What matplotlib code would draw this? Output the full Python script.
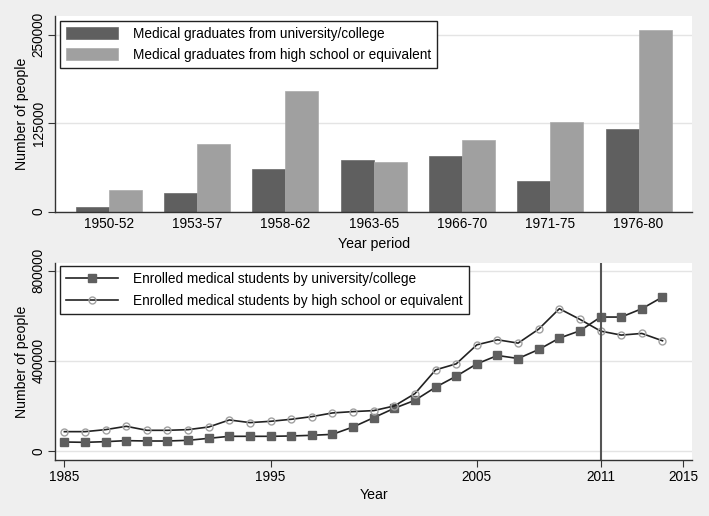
import numpy as np
import matplotlib.pyplot as plt

plt.rcParams['font.family'] = ['Liberation Sans', 'DejaVu Sans']

# top panel: graduates by period
periods = ["1950-52", "1953-57", "1958-62", "1963-65", "1966-70", "1971-75", "1976-80"]
grad_uni = [6100, 25900, 59900, 72600, 78800, 43800, 116300]
grad_hs = [31100, 95600, 170300, 69800, 100900, 126200, 257100]

# bottom panel: enrolled students by year
years = list(range(1985, 2015))
enr_uni = [40000, 38500, 41500, 46000, 44400, 44400, 47400, 56300, 65200, 65200,
           65200, 66700, 69600, 74000, 106600, 148000, 189600, 225000, 283000, 331800,
           386600, 423600, 410200, 450200, 500600, 533200, 594000, 594000, 631000, 682800]
enr_hs = [85900, 85900, 94800, 109600, 91800, 91800, 94800, 106600, 137700, 125900,
          131800, 140700, 152500, 168800, 174800, 179200, 199900, 254700, 359800, 386600,
          470900, 493200, 478400, 540600, 631000, 583600, 531700, 514000, 521300, 488800]

BG = "#efefef"
DARK = "#5f5f5f"
LIGHT = "#a0a0a0"
GRID = "#e4e4e4"
FS = 9.8
LFS = 9.8
TFS = 10.2

fig = plt.figure(figsize=(7.09, 5.16), dpi=100, facecolor=BG)
ax1 = fig.add_axes([0.078, 0.5897, 0.898, 0.3793])
ax2 = fig.add_axes([0.078, 0.1085, 0.898, 0.3824])


def style(ax):
    ax.set_facecolor("white")
    ax.spines["top"].set_visible(False)
    ax.spines["right"].set_visible(False)
    for s in ("left", "bottom"):
        ax.spines[s].set_color("#333333")
        ax.spines[s].set_linewidth(1.0)
    ax.tick_params(axis="both", direction="out", length=5, width=0.8,
                   color="#333333", labelsize=FS)
    ax.tick_params(axis="y", labelrotation=90, pad=2)
    for lab in ax.get_yticklabels():
        lab.set_va("center")
    ax.grid(axis="y", color=GRID, linewidth=1.0)
    ax.set_axisbelow(True)


# ---- top: grouped bars
x = np.arange(len(periods))
w = 0.374
ax1.bar(x - w / 2, grad_uni, w, color=DARK, edgecolor="#6a6a6a", linewidth=0.5,
        label="Medical graduates from university/college")
ax1.bar(x + w / 2, grad_hs, w, color=LIGHT, edgecolor="#aaaaaa", linewidth=0.5,
        label="Medical graduates from high school or equivalent")
ax1.set_xlim(-0.605, 6.605)
ax1.set_ylim(0, 276400)
ax1.set_yticks([0, 125000, 250000])
ax1.set_yticklabels(["0", "125000", "250000"])
ax1.set_xticks(x)
ax1.set_xticklabels(periods)
style(ax1)
ax1.tick_params(axis="x", length=0, pad=4)
ax1.set_ylabel("Number of people", fontsize=TFS, labelpad=1.5)
ax1.set_xlabel("Year period", fontsize=TFS, labelpad=4)
leg1 = ax1.legend(loc="upper left", bbox_to_anchor=(0.0074, 0.976), borderaxespad=0,
                  fontsize=LFS, frameon=True, fancybox=False, framealpha=1,
                  edgecolor="#222222", handlelength=3.8, handleheight=1.0,
                  handletextpad=1.1, labelspacing=0.5, borderpad=0.45)
leg1.get_frame().set_linewidth(1.0)

# ---- bottom: lines
ax2.plot(years, enr_uni, color="#222222", lw=1.2, marker="s", ms=6,
         mfc=DARK, mec=DARK, label="Enrolled medical students by university/college")
ax2.plot(years, enr_hs, color="#222222", lw=1.2, marker="o", ms=5,
         mfc="none", mec=LIGHT, mew=1.0,
         label="Enrolled medical students by high school or equivalent")
ax2.axvline(2011, color="#555555", lw=1.5)
ax2.set_xlim(1984.56, 2015.43)
ax2.set_ylim(-39900, 835000)
ax2.set_yticks([0, 400000, 800000])
ax2.set_yticklabels(["0", "400000", "800000"])
ax2.set_xticks([1985, 1995, 2005, 2011, 2015])
style(ax2)
ax2.tick_params(axis="x", pad=2)
ax2.set_ylabel("Number of people", fontsize=TFS, labelpad=1.5)
ax2.set_xlabel("Year", fontsize=TFS, labelpad=3)
leg2 = ax2.legend(loc="upper left", bbox_to_anchor=(0.0074, 0.983), borderaxespad=0,
                  fontsize=LFS, frameon=True, fancybox=False, framealpha=1,
                  edgecolor="#222222", handlelength=3.8, handletextpad=1.1,
                  labelspacing=0.55, borderpad=0.45)
leg2.get_frame().set_linewidth(1.0)

fig.savefig("out.png", dpi=100, facecolor=BG)
